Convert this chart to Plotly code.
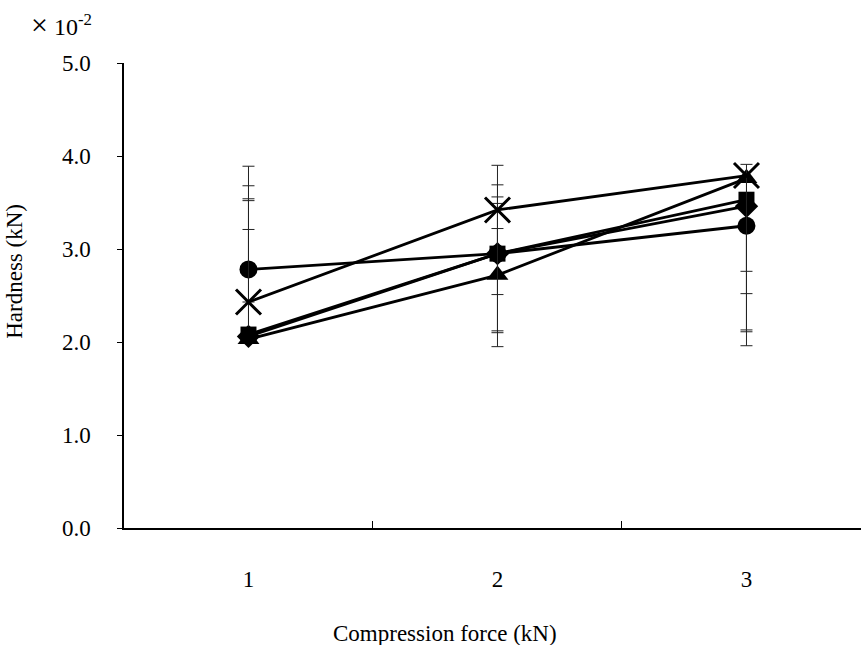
import plotly.graph_objects as go

force = [1, 2, 3]
tick_labels = ["1", "2", "3"]

# Hardness (x10^-2 kN)
circle_vals = [2.78, 2.95, 3.25]
x_vals = [2.43, 3.42, 3.79]
square_vals = [2.08, 2.95, 3.53]
triangle_vals = [2.03, 2.72, 3.76]
diamond_vals = [2.06, 2.95, 3.46]

circle_plus = [1.11, 0.74, 0.0]
circle_minus = [0.0, 0.83, 0.49]
x_plus = [1.25, 0.48, 0.12]
x_minus = [0.0, 0.91, 1.83]
square_plus = [1.46, 0.61, 0.0]
square_minus = [0.0, 0.85, 1.01]
triangle_plus = [1.18, 0.50, 0.0]
triangle_minus = [0.0, 0.77, 1.63]
diamond_plus = [1.46, 0.54, 0.0]
diamond_minus = [0.0, 0.0, 1.35]

FONT = "Liberation Serif, Times New Roman, serif"

series = [
    ("diamond", diamond_vals, diamond_plus, diamond_minus, dict(symbol="diamond", size=18, color="black")),
    ("triangle", triangle_vals, triangle_plus, triangle_minus, dict(symbol="triangle-up", size=19, color="black")),
    ("square", square_vals, square_plus, square_minus, dict(symbol="square", size=16, color="black")),
    ("circle", circle_vals, circle_plus, circle_minus, dict(symbol="circle", size=18, color="black")),
    ("x", x_vals, x_plus, x_minus, dict(symbol="x-thin-open", size=25, color="black",
                                        line=dict(color="black", width=3))),
]

fig = go.Figure()
for name, vals, plus, minus, marker in series:
    fig.add_trace(go.Scatter(
        x=force, y=vals, name=name, mode="lines+markers",
        line=dict(color="black", width=2.8),
        marker=marker,
        error_y=dict(type="data", symmetric=False, array=plus, arrayminus=minus,
                     color="#222222", thickness=1, width=6),
        showlegend=False,
    ))

fig.update_layout(
    width=861, height=645,
    margin=dict(l=124, r=0, t=63, b=117),
    paper_bgcolor="white", plot_bgcolor="white",
    font=dict(family=FONT, size=23, color="black"),
    xaxis=dict(
        range=[0.5, 3.46], tickmode="array", tickvals=force, ticktext=tick_labels,
        ticks="", showgrid=False, zeroline=False,
        showline=True, linecolor="black", linewidth=1.5,
        ticklabelstandoff=30,
        minor=dict(tickmode="array", tickvals=[1.5, 2.5], ticks="inside",
                   ticklen=7, tickcolor="black", tickwidth=1, showgrid=False),
    ),
    yaxis=dict(
        range=[0, 5], tickmode="array", tickvals=[0, 1, 2, 3, 4, 5],
        ticktext=["0.0", "1.0", "2.0", "3.0", "4.0", "5.0"],
        ticks="outside", ticklen=5, tickcolor="black", tickwidth=1,
        showgrid=False, zeroline=False,
        showline=True, linecolor="black", linewidth=1.5,
        ticklabelstandoff=22,
    ),
    annotations=[
        dict(text="Hardness (kN)", xref="paper", yref="paper", x=-0.148, y=0.553,
             xanchor="center", yanchor="middle", textangle=-90, showarrow=False,
             font=dict(family=FONT, size=23)),
        dict(text="Compression force (kN)", xref="paper", yref="paper", x=0.435, y=-0.226,
             xanchor="center", yanchor="middle", showarrow=False,
             font=dict(family=FONT, size=23)),
        dict(text='<span style="font-size:30px">×</span> 10<sup>-2</sup>',
             xref="paper", yref="paper", x=-0.085, y=1.082,
             xanchor="center", yanchor="middle", showarrow=False,
             font=dict(family=FONT, size=24)),
    ],
)

fig.write_html("out.html")
